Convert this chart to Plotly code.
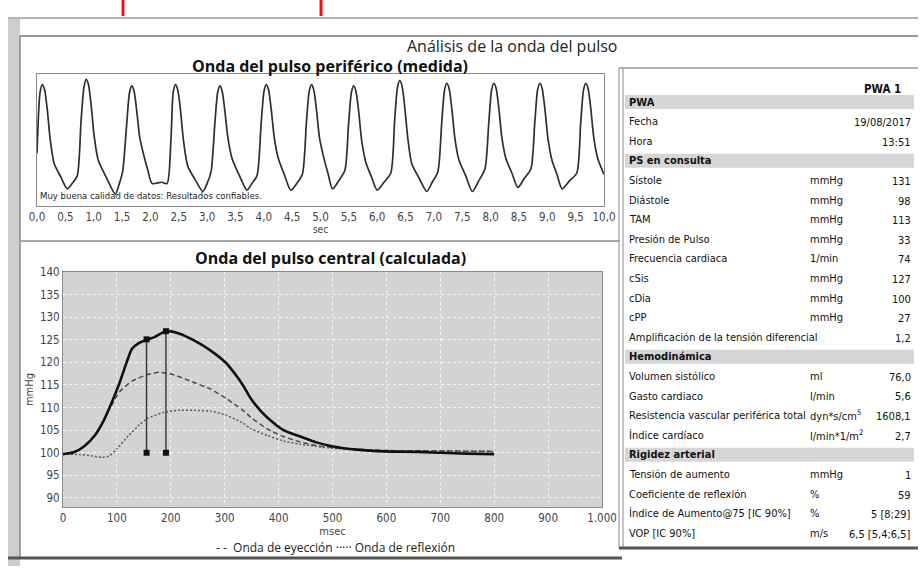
import plotly.graph_objects as go

W, H = 920, 570

# ---------------- Peripheral pulse (measured) ----------------
per_t = [0.00, 0.054, 0.094, 0.134, 0.184, 0.234, 0.304, 0.42, 0.535, 0.62, 0.71,
         0.778, 0.828, 0.868, 0.908, 0.958, 1.008, 1.078, 1.23, 1.381, 1.445, 1.51,
         1.582, 1.632, 1.672, 1.712, 1.762, 1.812, 1.88, 1.955, 2.031, 2.195, 2.293,
         2.36, 2.402, 2.442, 2.482, 2.532, 2.582, 2.66, 2.79, 2.924, 3.0, 3.07,
         3.136, 3.186, 3.226, 3.266, 3.316, 3.366, 3.44, 3.57, 3.701, 3.79, 3.88,
         3.954, 4.004, 4.044, 4.084, 4.134, 4.184, 4.25, 4.36, 4.476, 4.58, 4.68,
         4.751, 4.801, 4.841, 4.881, 4.931, 4.981, 5.05, 5.13, 5.212, 5.32, 5.43,
         5.495, 5.545, 5.585, 5.625, 5.675, 5.725, 5.80, 5.90, 5.999, 6.12, 6.24,
         6.308, 6.358, 6.398, 6.438, 6.488, 6.538, 6.61, 6.74, 6.876, 6.97, 7.07,
         7.138, 7.188, 7.228, 7.268, 7.318, 7.368, 7.44, 7.56, 7.678, 7.79, 7.90,
         7.968, 8.018, 8.058, 8.098, 8.148, 8.198, 8.27, 8.375, 8.481, 8.595, 8.71,
         8.779, 8.829, 8.869, 8.909, 8.959, 9.009, 9.08, 9.17, 9.262, 9.39, 9.52,
         9.589, 9.639, 9.679, 9.719, 9.769, 9.819, 9.89, 10.0]
per_v = [40, 86, 92, 88, 72, 50, 32, 22, 13, 17, 23,
         65, 90, 96, 92, 75, 53, 35, 21, 9, 16, 26,
         62, 86, 91, 87, 71, 52, 39, 27, 17, 18, 17,
         48, 86, 92, 88, 72, 50, 30, 20, 11, 17, 26,
         62, 86, 91, 87, 71, 52, 36, 23, 12, 17, 23,
         63, 87, 92, 88, 72, 52, 37, 24, 12, 17, 24,
         63, 87, 92, 88, 72, 52, 38, 25, 13, 19, 27,
         62, 86, 91, 87, 71, 50, 33, 22, 12, 18, 25,
         65, 90, 95, 91, 74, 52, 32, 21, 11, 18, 26,
         63, 88, 93, 89, 73, 52, 35, 23, 11, 19, 28,
         63, 88, 93, 89, 73, 52, 36, 25, 14, 21, 28,
         63, 88, 93, 89, 73, 52, 35, 24, 13, 19, 25,
         63, 88, 93, 89, 73, 52, 36, 24]
per_tickvals = [0, 0.5, 1, 1.5, 2, 2.5, 3, 3.5, 4, 4.5, 5, 5.5, 6, 6.5, 7, 7.5, 8, 8.5, 9, 9.5, 10]
per_ticktext = ["0,0", "0,5", "1,0", "1,5", "2,0", "2,5", "3,0", "3,5", "4,0", "4,5", "5,0",
                "5,5", "6,0", "6,5", "7,0", "7,5", "8,0", "8,5", "9,0", "9,5", "10,0"]

# ---------------- Central pulse (calculated) ----------------
c_ms = [0, 20, 40, 60, 75, 90, 105, 118, 128, 140, 155, 170, 191, 215, 244, 274, 303, 320, 333,
        349, 365, 380, 409, 440, 470, 501, 545, 596, 660, 700, 750, 800]
c_v = [99.7, 100.1, 101.5, 104.0, 107.0, 111.0, 115.5, 120.0, 123.0, 124.2, 125.0, 125.6, 126.9,
       126.4, 124.8, 122.6, 119.8, 117.3, 115.1, 111.9, 109.5, 107.7, 105.0, 103.6, 102.3, 101.4,
       100.7, 100.3, 100.2, 100.0, 99.8, 99.7]
ej_ms = [0, 20, 40, 60, 75, 90, 105, 129, 157, 179, 204, 244, 274, 303, 320, 333, 349, 380, 409,
         440, 470, 501, 545, 596, 700, 800]
ej_v = [99.7, 100.1, 101.5, 104.0, 107.0, 110.5, 113.5, 115.9, 117.3, 117.8, 117.3, 115.5, 114.1,
        112.0, 110.6, 109.5, 107.8, 105.2, 103.6, 102.4, 101.6, 101.1, 100.8, 100.5, 100.4, 100.3]
rf_ms = [0, 31, 48, 71, 86, 100, 121, 142, 157, 186, 215, 244, 274, 303, 333, 349, 380, 409, 440,
         470, 501, 545, 596, 700, 800]
rf_v = [99.7, 99.6, 99.4, 99.0, 99.3, 100.9, 103.7, 106.2, 107.6, 108.9, 109.4, 109.4, 109.2, 108.3,
        106.6, 105.3, 103.8, 102.6, 101.9, 101.4, 101.0, 100.7, 100.5, 100.4, 100.3]
mark_ms = [155, 191]
mark_top = [125.1, 126.9]
mark_base = [100, 100]
c_tickvals = [0, 100, 200, 300, 400, 500, 600, 700, 800, 900, 1000]
c_ticktext = ["0", "100", "200", "300", "400", "500", "600", "700", "800", "900", "1.000"]
c_ytickvals = [90, 95, 100, 105, 110, 115, 120, 125, 130, 135, 140]

# ---------------- Table ----------------
tbl_labels = ["PWA", "Fecha", "Hora", "PS en consulta", "Sístole", "Diástole", "TAM",
              "Presión de Pulso", "Frecuencia cardiaca", "cSis", "cDia", "cPP",
              "Amplificación de la tensión diferencial", "Hemodinámica", "Volumen sistólico",
              "Gasto cardiaco", "Resistencia vascular periférica total", "Índice cardíaco",
              "Rigidez arterial", "Tensión de aumento", "Coeficiente de reflexión",
              "Índice de Aumento@75 [IC 90%]", "VOP [IC 90%]"]
tbl_units = ["", "", "", "", "mmHg", "mmHg", "mmHg", "mmHg", "1/min", "mmHg", "mmHg", "mmHg",
             "", "", "ml", "l/min", "dyn*s/cm<sup>5</sup>", "l/min*1/m<sup>2</sup>", "",
             "mmHg", "%", "%", "m/s"]
tbl_values = ["", "19/08/2017", "13:51", "", "131", "98", "113", "33", "74", "127", "100", "27",
              "1,2", "", "76,0", "5,6", "1608,1", "2,7", "", "1", "59", "5 [8;29]", "6,5 [5,4;6,5]"]
tbl_sections = ["PWA", "PS en consulta", "Hemodinámica", "Rigidez arterial"]

FONT = "Open Sans, sans-serif"
NARROW = "Liberation Sans Narrow, DejaVu Sans Condensed, Roboto, sans-serif"


def X(px):
    return px / W


def Y(py):
    return 1 - py / H


def note(text, px, py, size, family=NARROW, color="#111", xanchor="center"):
    return dict(text=text, x=X(px), y=Y(py), xref="paper", yref="paper", xanchor=xanchor,
                yanchor="middle", showarrow=False, font=dict(family=family, size=size, color=color))


def hline(x0, x1, y, color, width):
    return dict(type="line", xref="paper", yref="paper", x0=X(x0), x1=X(x1), y0=Y(y), y1=Y(y),
                line=dict(color=color, width=width))


def vline(x, y0, y1, color, width):
    return dict(type="line", xref="paper", yref="paper", x0=X(x), x1=X(x), y0=Y(y0), y1=Y(y1),
                line=dict(color=color, width=width))


fig = go.Figure()

fig.add_trace(go.Scatter(x=per_t, y=per_v, xaxis="x", yaxis="y", mode="lines",
                         line=dict(color="#2e2e2e", width=1.7, shape="spline", smoothing=0.7),
                         showlegend=False, hoverinfo="skip"))

fig.add_trace(go.Scatter(x=rf_ms, y=rf_v, xaxis="x2", yaxis="y2", mode="lines",
                         line=dict(color="#5a5a5a", width=1.5, dash="2px,2px", shape="spline", smoothing=0.6),
                         showlegend=False, hoverinfo="skip"))
fig.add_trace(go.Scatter(x=ej_ms, y=ej_v, xaxis="x2", yaxis="y2", mode="lines",
                         line=dict(color="#4a4a4a", width=1.5, dash="5px,3px", shape="spline", smoothing=0.6),
                         showlegend=False, hoverinfo="skip"))
fig.add_trace(go.Scatter(x=c_ms, y=c_v, xaxis="x2", yaxis="y2", mode="lines",
                         line=dict(color="#111111", width=2.6, shape="spline", smoothing=0.6),
                         showlegend=False, hoverinfo="skip"))
for t, top, base in zip(mark_ms, mark_top, mark_base):
    fig.add_trace(go.Scatter(x=[t, t], y=[base, top], xaxis="x2", yaxis="y2", mode="lines+markers",
                             line=dict(color="#333333", width=1.4),
                             marker=dict(symbol="square", size=6, color="#111111"),
                             showlegend=False, hoverinfo="skip"))

shapes = []
# red fragments at top
for xr in (123, 321):
    shapes.append(vline(xr, 0, 16, "#e8141c", 3))
# window frame
shapes.append(dict(type="rect", xref="paper", yref="paper", x0=X(8), x1=X(20), y0=Y(566), y1=Y(18),
                   fillcolor="#cdcdcd", line=dict(width=0)))
shapes.append(hline(8, 918, 18, "#b5b5b5", 2))
shapes.append(hline(20, 918, 36, "#9a9a9a", 2))
shapes.append(vline(20, 36, 558, "#8a8a8a", 1.5))
shapes.append(hline(8, 622, 558, "#555555", 3))
# separator between panels
shapes.append(hline(20, 620, 241, "#a8a8a8", 2))
# table frame
shapes.append(vline(619, 68, 548, "#9a9a9a", 1.2))
shapes.append(vline(623, 68, 548, "#9a9a9a", 1.2))
shapes.append(hline(619, 918, 68, "#9a9a9a", 1.5))
shapes.append(hline(619, 918, 548, "#555555", 3))
# gray plot background of central chart
shapes.append(dict(type="rect", xref="x2 domain", yref="y2 domain", x0=0, x1=1, y0=0, y1=1,
                   fillcolor="#d3d3d3", line=dict(width=0), layer="below"))

annotations = []
annotations.append(note("Análisis de la onda del pulso", 512, 46, 16, FONT, "#222"))
annotations.append(note("<b>Onda del pulso periférico (medida)</b>", 330, 66, 16, FONT))
annotations.append(note("<b>Onda del pulso central (calculada)</b>", 330, 258, 16, FONT))
annotations.append(note("Muy buena calidad de datos: Resultados confiables.", 38, 196, 9.5,
                        NARROW, "#222", "left"))
annotations.append(note("- -  Onda de eyección ····· Onda de reflexión", 335, 547, 12, FONT, "#222"))

# table text
ROW0, ROWH = 102, 19.6
annotations.append(note("<b>PWA 1</b>", 903, 89, 11.5, NARROW, "#111", "right"))
for i, (lab, unit, val) in enumerate(zip(tbl_labels, tbl_units, tbl_values)):
    yy = ROW0 + ROWH * i
    if lab in tbl_sections:
        shapes.append(dict(type="rect", xref="paper", yref="paper", x0=X(625), x1=X(914),
                           y0=Y(yy + 7), y1=Y(yy - 7), fillcolor="#d6d6d6", line=dict(width=0),
                           layer="below"))
        txt = "<b>" + lab + "</b>"
    else:
        txt = lab
    annotations.append(note(txt, 627, yy, 11, NARROW, "#111", "left"))
    if unit:
        annotations.append(note(unit, 808, yy, 11, NARROW, "#111", "left"))
    if val:
        annotations.append(note(val, 913, yy + 1, 11, NARROW, "#111", "right"))

tickfont = dict(family=NARROW, size=11.5, color="#444")

fig.update_layout(
    width=W, height=H, autosize=False,
    margin=dict(l=0, r=0, t=0, b=0, pad=0),
    paper_bgcolor="white", plot_bgcolor="rgba(0,0,0,0)",
    shapes=shapes, annotations=annotations,
    xaxis=dict(domain=[X(37), X(604)], anchor="y", range=[0, 10], tickvals=per_tickvals,
               ticktext=per_ticktext, showgrid=False, zeroline=False, showline=True, mirror=True,
               linecolor="#8a8a8a", linewidth=1, ticks="", tickfont=tickfont, automargin=False,
               title=dict(text="sec", font=dict(family=NARROW, size=10, color="#444"), standoff=2)),
    yaxis=dict(domain=[Y(206), Y(74)], anchor="x", range=[0, 100], showticklabels=False,
               showgrid=False, zeroline=False, showline=True, mirror=True, linecolor="#8a8a8a",
               linewidth=1, ticks="", automargin=False),
    xaxis2=dict(domain=[X(63), X(602)], anchor="y2", range=[0, 1000], tickvals=c_tickvals,
                ticktext=c_ticktext, showgrid=True, gridcolor="#f6f6f6", griddash="3px,3px",
                gridwidth=1, zeroline=False, showline=True, mirror=True, linecolor="#8a8a8a",
                linewidth=1, ticks="", tickfont=tickfont, automargin=False,
                title=dict(text="msec", font=dict(family=NARROW, size=11, color="#444"), standoff=2)),
    yaxis2=dict(domain=[Y(507), Y(272)], anchor="x2", range=[88, 140], tickvals=c_ytickvals,
                showgrid=True, gridcolor="#f6f6f6", griddash="3px,3px", gridwidth=1, zeroline=False,
                showline=True, mirror=True, linecolor="#8a8a8a", linewidth=1, ticks="",
                tickfont=tickfont, automargin=False,
                title=dict(text="mmHg", font=dict(family=NARROW, size=11, color="#444"), standoff=4)),
)

fig.write_html("out.html", config={"displayModeBar": False},
               post_script="document.body.style.margin='0px';")
